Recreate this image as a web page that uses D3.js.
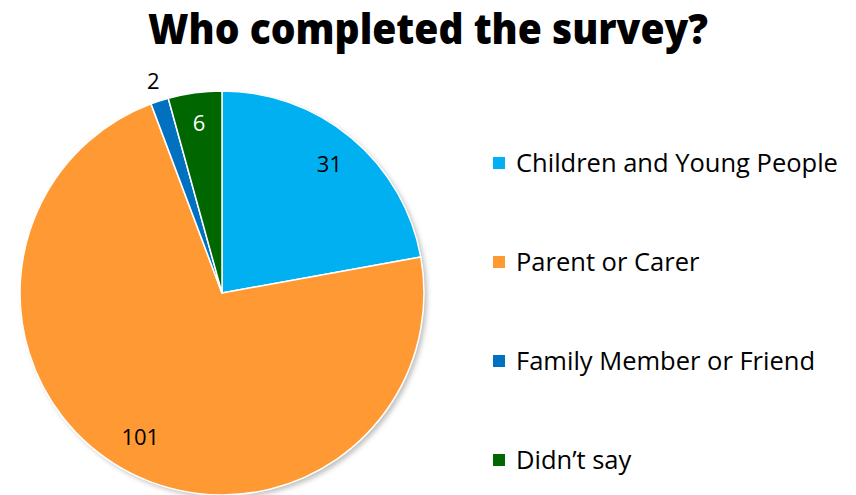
<!DOCTYPE html>
<html>
<head>
<meta charset="utf-8">
<script src="https://cdn.jsdelivr.net/npm/d3@7"></script>
<style>
  html, body { margin: 0; padding: 0; background: #fff; }
  svg { display: block; font-family: "Open Sans", "Noto Sans", sans-serif; }
</style>
</head>
<body>
<svg id="chart" width="856" height="495"></svg>
<script>
// Survey respondents by group
const categories = ["Children and Young People", "Parent or Carer", "Family Member or Friend", "Didn\u2019t say"];
const counts = [31, 101, 2, 6];
const colors = ["#00B0F0", "#FF9933", "#0070C0", "#006600"];
const labelColors = ["#000", "#000", "#000", "#fff"];

const svg = d3.select("#chart");

// Title
svg.append("text")
  .attr("x", 428).attr("y", 44)
  .attr("text-anchor", "middle")
  .attr("font-size", 42).attr("font-weight", 800)
  .attr("textLength", 560).attr("lengthAdjust", "spacingAndGlyphs")
  .text("Who completed the survey?");

// Soft shadow behind the pie
const defs = svg.append("defs");
const f = defs.append("filter").attr("id", "shadow")
  .attr("x", "-10%").attr("y", "-10%").attr("width", "120%").attr("height", "120%");
f.append("feDropShadow").attr("dx", 3).attr("dy", 3).attr("stdDeviation", 2.5)
  .attr("flood-color", "#000").attr("flood-opacity", 0.25);

const cx = 222, cy = 293, r = 202;
const data = categories.map((c, i) => ({ name: c, value: counts[i], i }));
const pie = d3.pie().value(d => d.value).sort(null);
const arcs = pie(data);
const arc = d3.arc().innerRadius(0).outerRadius(r);

const g = svg.append("g").attr("transform", `translate(${cx},${cy})`);
g.append("circle").attr("r", r).attr("fill", "#fff").attr("filter", "url(#shadow)");
g.selectAll("path.slice").data(arcs).enter().append("path")
  .attr("class", "slice")
  .attr("d", arc)
  .attr("fill", d => colors[d.data.i])
  .attr("stroke", "#fff").attr("stroke-width", 1.5)
  .attr("stroke-linejoin", "round");

// Value labels: inside for larger slices, outside for the smallest
const labelRadius = [0.83, 0.82, 1.1, 0.85];
g.selectAll("text.val").data(arcs).enter().append("text")
  .attr("class", "val")
  .attr("transform", d => {
    const a = (d.startAngle + d.endAngle) / 2;
    const rr = r * labelRadius[d.data.i];
    return `translate(${Math.sin(a) * rr},${-Math.cos(a) * rr})`;
  })
  .attr("text-anchor", "middle")
  .attr("dy", "0.35em")
  .attr("font-size", 22)
  .attr("fill", d => labelColors[d.data.i])
  .text(d => d.data.value);

// Legend
const legendY = d3.scalePoint().domain(categories).range([163, 460]);
const items = svg.append("g").selectAll("g").data(data).enter().append("g")
  .attr("transform", d => `translate(493,${legendY(d.name)})`);
items.append("rect").attr("x", 0).attr("y", -6).attr("width", 12).attr("height", 12)
  .attr("fill", d => colors[d.i]);
items.append("text").attr("x", 23).attr("y", 0).attr("dy", "0.35em")
  .attr("font-size", 25.5).attr("fill", "#000")
  .text(d => d.name);
</script>
</body>
</html>
